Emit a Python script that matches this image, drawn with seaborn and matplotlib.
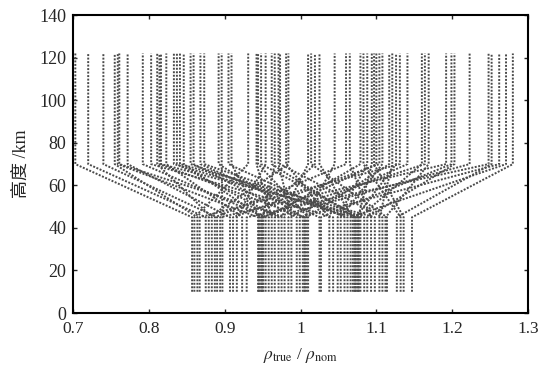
import pandas as pd
import matplotlib
matplotlib.use("Agg")
import matplotlib.pyplot as plt
import seaborn as sns

# Density ratio of each profile below 45 km (sorted) and above 70 km (paired)
rho_low = [0.857, 0.860, 0.864, 0.867, 0.875, 0.879, 0.883, 0.887, 0.890, 0.894,
           0.897, 0.907, 0.911, 0.916, 0.923, 0.929, 0.944, 0.945, 0.946, 0.948,
           0.949, 0.950, 0.951, 0.954, 0.958, 0.962, 0.966, 0.971, 0.975, 0.979,
           0.984, 0.988, 0.995, 0.999, 1.003, 1.005, 1.006, 1.008, 1.010, 1.025,
           1.027, 1.038, 1.043, 1.049, 1.053, 1.058, 1.062, 1.066, 1.069, 1.071,
           1.072, 1.073, 1.075, 1.076, 1.077, 1.079, 1.084, 1.088, 1.093, 1.098,
           1.104, 1.108, 1.112, 1.114, 1.127, 1.132, 1.136, 1.147]
rho_high = [0.703, 0.931, 0.755, 1.131, 0.720, 0.984, 0.811, 1.060, 0.740, 1.192,
            0.896, 0.772, 1.104, 0.954, 0.823, 1.248, 0.759, 1.019, 0.909, 1.164,
            0.846, 0.966, 1.100, 0.792, 1.079, 0.942, 1.223, 0.837, 1.010, 0.761,
            1.141, 0.971, 0.859, 1.262, 0.892, 0.814, 1.045, 1.117, 0.944, 0.868,
            1.199, 0.981, 0.803, 1.088, 1.108, 0.905, 0.855, 1.271, 1.025, 0.833,
            0.962, 1.126, 0.873, 1.094, 1.160, 0.948, 0.816, 1.203, 1.065, 0.841,
            1.121, 0.973, 1.169, 1.014, 1.252, 1.083, 1.097, 1.280]
# altitude break points (km): low segment, transition, high segment
alt_pts = [10, 45, 70, 122]

x_ticks = [0.7, 0.8, 0.9, 1.0, 1.1, 1.2, 1.3]
x_tick_labels = ["0.7", "0.8", "0.9", "1", "1.1", "1.2", "1.3"]
y_ticks = [0, 20, 40, 60, 80, 100, 120, 140]

# build long table: one polyline per profile
rows = []
for i, (lo, hi) in enumerate(zip(rho_low, rho_high)):
    for rho, h in zip([lo, lo, hi, hi], alt_pts):
        rows.append({"id": i, "rho": rho, "h": h})
df = pd.DataFrame(rows)

sns.set_style("ticks")
plt.rcParams["font.family"] = ["Liberation Serif", "Noto Sans CJK SC"]
plt.rcParams["mathtext.fontset"] = "stix"

fig = plt.figure(figsize=(5.41, 3.70), dpi=100)
ax = fig.add_axes([0.135, 0.154, 0.841, 0.805])

sns.lineplot(data=df, x="rho", y="h", units="id", estimator=None, sort=False,
             color="#4a4a4a", linewidth=1.4, linestyle=(0, (1, 0.8)), ax=ax,
             legend=False)

ax.set_xlim(0.7, 1.3)
ax.set_ylim(0, 140)
ax.set_xticks(x_ticks)
ax.set_xticklabels(x_tick_labels)
ax.set_yticks(y_ticks)
ax.tick_params(direction="in", length=3, width=1, top=True, right=True,
               labelsize=13, pad=5)
ax.tick_params(axis="x", labelsize=12.5, pad=6)
for s in ax.spines.values():
    s.set_linewidth(1.5)
    s.set_color("black")

ax.set_xlabel(r"$\rho_{\rm true}$ / $\rho_{\rm nom}$", fontsize=12.5, labelpad=6)
ax.set_ylabel("高度 /km", fontsize=13, labelpad=7)

fig.savefig("out.png", dpi=100)
